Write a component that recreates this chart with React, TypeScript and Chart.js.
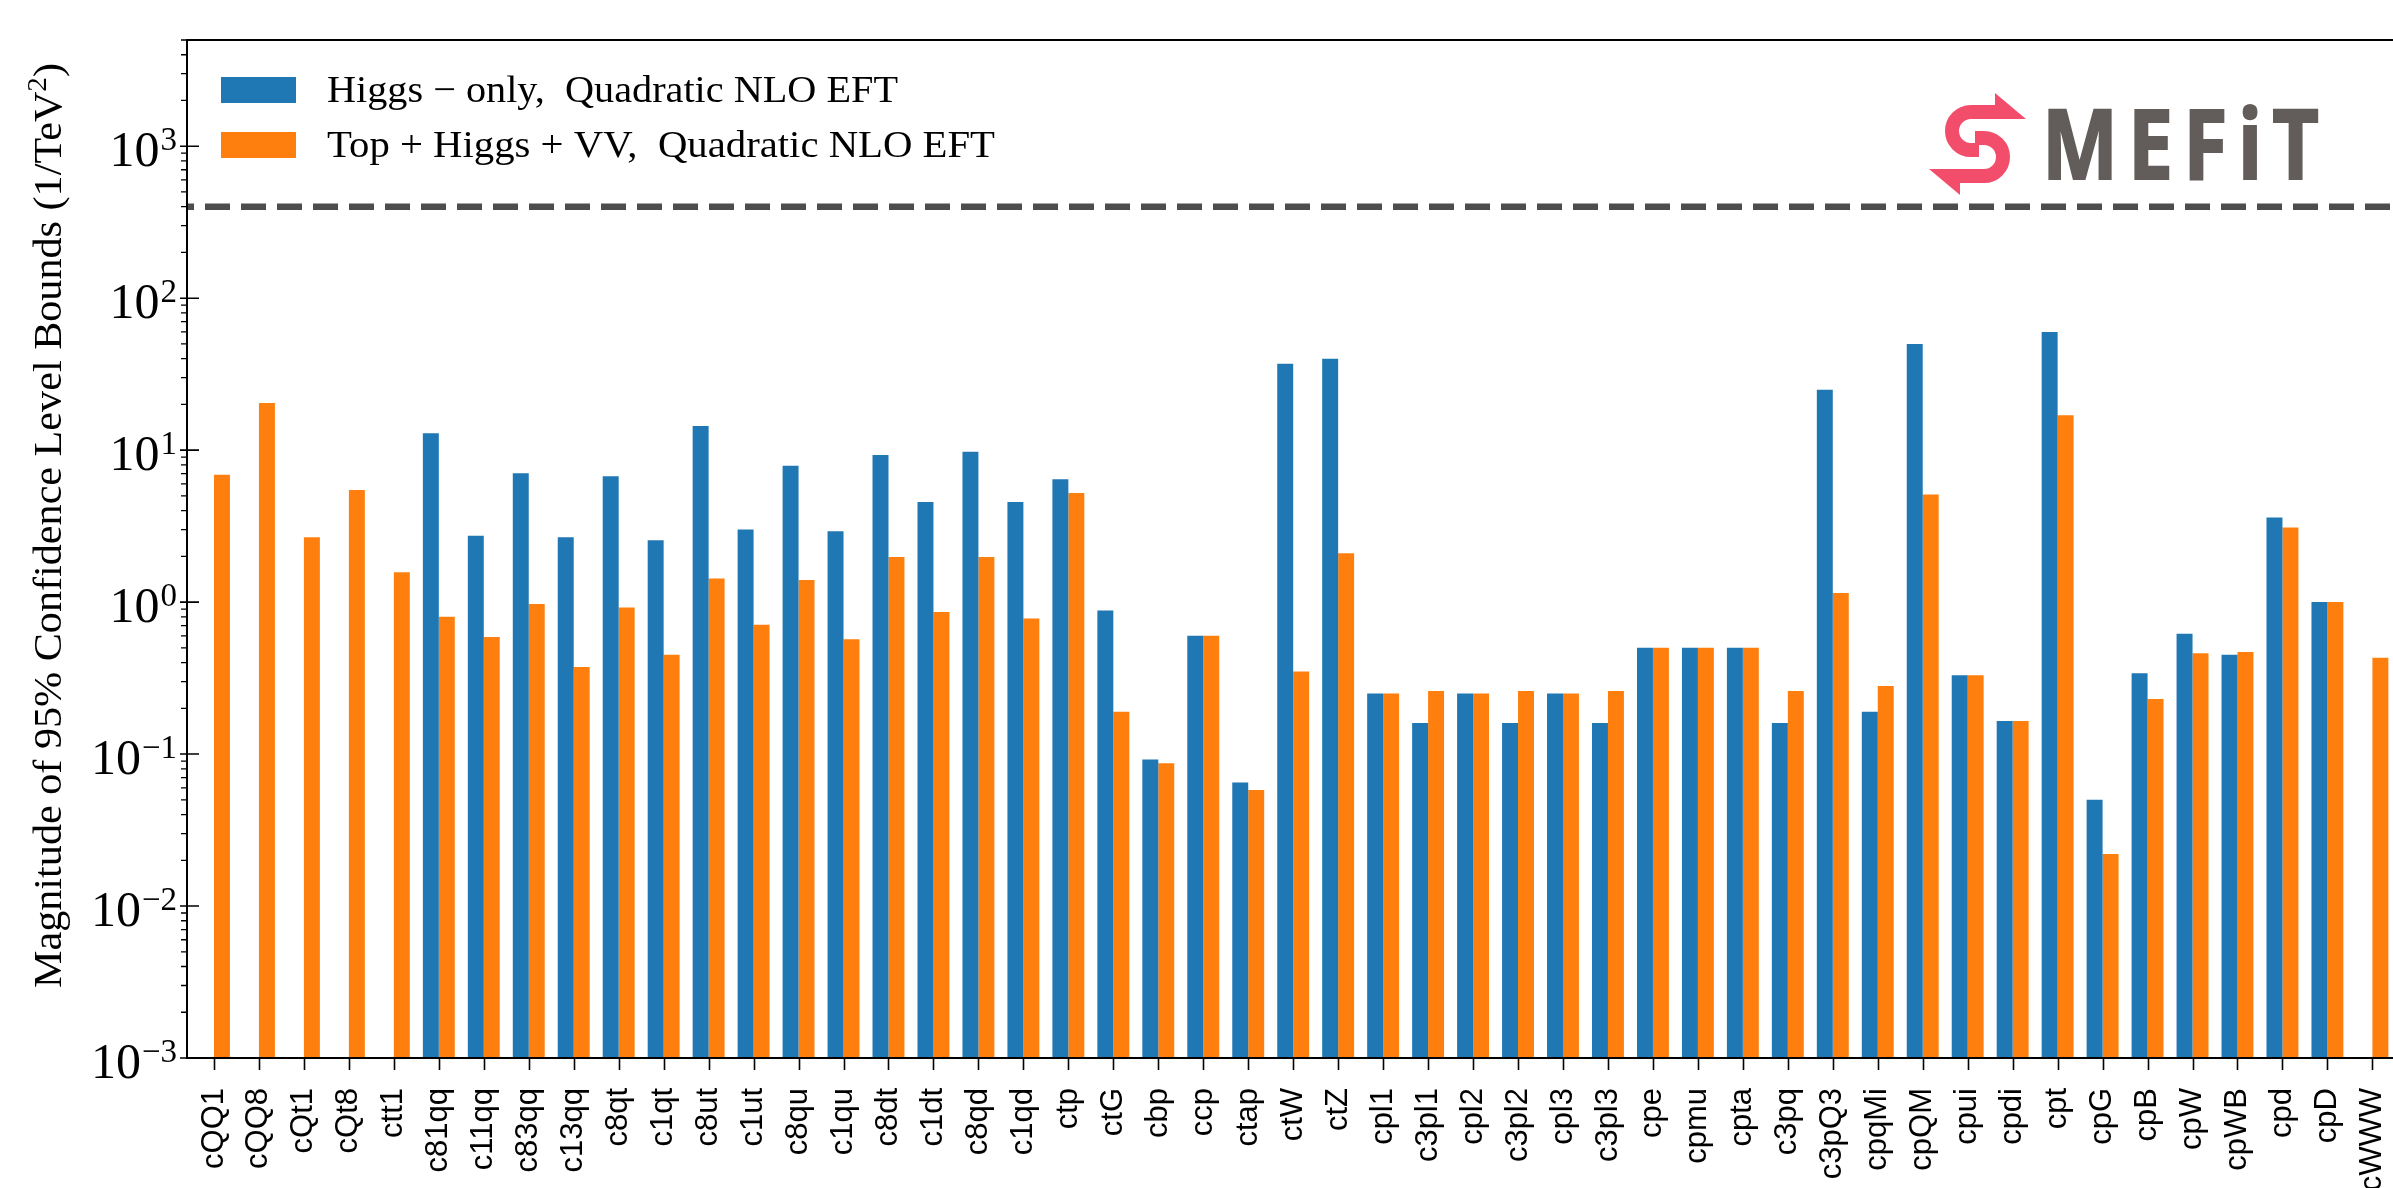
import React, { useEffect, useRef } from 'react';
import { Chart, registerables } from 'chart.js';

Chart.register(...registerables);

const categories = ['cQQ1','cQQ8','cQt1','cQt8','ctt1','c81qq','c11qq','c83qq','c13qq','c8qt','c1qt','c8ut','c1ut','c8qu','c1qu','c8dt','c1dt','c8qd','c1qd','ctp','ctG','cbp','ccp','ctap','ctW','ctZ','cpl1','c3pl1','cpl2','c3pl2','cpl3','c3pl3','cpe','cpmu','cpta','c3pq','c3pQ3','cpqMi','cpQM','cpui','cpdi','cpt','cpG','cpB','cpW','cpWB','cpd','cpD','cWWW'];

const higgsOnly: (number | null)[] = [null, null, null, null, null, 12.9, 2.73, 7.05, 2.67, 6.73, 2.55, 14.4, 3.0, 7.9, 2.93, 9.3, 4.55, 9.75, 4.55, 6.43, 0.88, 0.092, 0.6, 0.065, 37, 40, 0.25, 0.16, 0.25, 0.16, 0.25, 0.16, 0.5, 0.5, 0.5, 0.16, 25, 0.19, 50, 0.33, 0.165, 60, 0.05, 0.34, 0.62, 0.45, 3.6, 1.0, null];

const topHiggsVV: (number | null)[] = [6.9, 20.4, 2.67, 5.47, 1.57, 0.8, 0.59, 0.97, 0.374, 0.92, 0.45, 1.43, 0.71, 1.4, 0.57, 1.98, 0.86, 1.98, 0.78, 5.22, 0.19, 0.087, 0.6, 0.058, 0.35, 2.1, 0.25, 0.26, 0.25, 0.26, 0.25, 0.26, 0.5, 0.5, 0.5, 0.26, 1.15, 0.28, 5.1, 0.33, 0.165, 17, 0.022, 0.23, 0.46, 0.47, 3.1, 1.0, 0.43];

const seriesLabels = ['Higgs \u2212 only,  Quadratic NLO EFT', 'Top + Higgs + VV,  Quadratic NLO EFT'];
const seriesColors = ['#1f77b4', '#ff7f0e'];
const yExponents = [-3, -2, -1, 0, 1, 2, 3];
const yMin = 0.001;
const yMax = 5000;
const referenceLine = 400;
const yTitleMain = 'Magnitude of 95% Confidence Level Bounds (1/TeV';
const yTitleSup = '2';
const yTitleEnd = ')';
const logoText = 'MEFiT';

const SERIF = '"Liberation Serif", "DejaVu Serif", serif';

type Run = { text: string; size: number; dy: number };

function drawRuns(ctx: CanvasRenderingContext2D, runs: Run[], x: number, y: number, targetWidth?: number) {
  ctx.save();
  let total = 0;
  const widths = runs.map((r) => {
    ctx.font = `${r.size}px ${SERIF}`;
    const w = ctx.measureText(r.text).width;
    total += w;
    return w;
  });
  const sx = targetWidth ? targetWidth / total : 1;
  ctx.translate(x, y);
  ctx.scale(sx, 1);
  let cx = 0;
  runs.forEach((r, i) => {
    ctx.font = `${r.size}px ${SERIF}`;
    ctx.fillText(r.text, cx, r.dy);
    cx += widths[i];
  });
  ctx.restore();
}

const decorPlugin = {
  id: 'decor',
  beforeDatasetsDraw(chart: any) {
    const ctx: CanvasRenderingContext2D = chart.ctx;
    const y = chart.scales.y;
    const area = chart.chartArea;
    const axisX = 187;
    const py = y.getPixelForValue(referenceLine);
    ctx.save();
    ctx.strokeStyle = '#4d4d4d';
    ctx.lineWidth = 6.5;
    ctx.setLineDash([25, 11]);
    ctx.lineDashOffset = 18;
    ctx.beginPath();
    ctx.moveTo(axisX, py);
    ctx.lineTo(area.right + 40, py);
    ctx.stroke();
    ctx.restore();
  },
  afterDatasetsDraw(chart: any) {
    const ctx: CanvasRenderingContext2D = chart.ctx;
    const xs = chart.scales.x;
    const ys = chart.scales.y;
    const area = chart.chartArea;
    const axisX = 187;
    const top = area.top;
    const bottom = area.bottom;
    ctx.save();
    ctx.strokeStyle = '#000';
    ctx.lineWidth = 2;
    ctx.beginPath();
    ctx.moveTo(axisX, top);
    ctx.lineTo(axisX, bottom);
    ctx.moveTo(axisX - 1, bottom);
    ctx.lineTo(area.right + 40, bottom);
    ctx.moveTo(axisX - 1, top);
    ctx.lineTo(area.right + 40, top);
    ctx.stroke();
    ctx.lineWidth = 1.6;
    ctx.beginPath();
    categories.forEach((_, i) => {
      const px = Math.round(xs.getPixelForTick(i)) + 0.5;
      ctx.moveTo(px, bottom);
      ctx.lineTo(px, bottom + 12);
    });
    ctx.stroke();
    ctx.beginPath();
    yExponents.forEach((e) => {
      const p = ys.getPixelForValue(Math.pow(10, e));
      ctx.moveTo(axisX - 7, p);
      ctx.lineTo(axisX + 12, p);
    });
    ctx.stroke();
    ctx.lineWidth = 1.3;
    ctx.beginPath();
    yExponents.forEach((e) => {
      for (let k = 2; k <= 9; k++) {
        const v = k * Math.pow(10, e);
        if (v > yMax) continue;
        const p = ys.getPixelForValue(v);
        ctx.moveTo(axisX - 6, p);
        ctx.lineTo(axisX, p);
      }
    });
    ctx.stroke();
    ctx.restore();

    ctx.save();
    ctx.fillStyle = '#000';
    ctx.textBaseline = 'alphabetic';
    yExponents.forEach((e) => {
      const p = ys.getPixelForValue(Math.pow(10, e));
      const expText = e < 0 ? `\u2212${-e}` : `${e}`;
      ctx.font = `50px ${SERIF}`;
      const w1 = ctx.measureText('10').width;
      ctx.font = `33px ${SERIF}`;
      const w2 = ctx.measureText(expText).width;
      const x0 = 176 - w1 - w2;
      ctx.font = `50px ${SERIF}`;
      ctx.fillText('10', x0, p + 20);
      ctx.font = `33px ${SERIF}`;
      ctx.fillText(expText, x0 + w1 + 1, p + 4);
    });
    ctx.restore();

    ctx.save();
    ctx.fillStyle = '#000';
    ctx.translate(61, 988);
    ctx.rotate(-Math.PI / 2);
    drawRuns(ctx, [
      { text: yTitleMain, size: 39, dy: 0 },
      { text: yTitleSup, size: 27, dy: -15 },
      { text: yTitleEnd, size: 39, dy: 0 },
    ], 0, 0, 925);
    ctx.restore();

    ctx.save();
    seriesLabels.forEach((lab, i) => {
      const sy = 77 + i * 55;
      ctx.fillStyle = seriesColors[i];
      ctx.fillRect(221, sy, 75, 26);
      ctx.fillStyle = '#000';
      drawRuns(ctx, [{ text: lab, size: 38, dy: 0 }], 327, 102 + i * 55, i === 0 ? 571 : 668);
    });
    ctx.restore();

    // logo
    ctx.save();
    const red = '#f24e6b';
    ctx.strokeStyle = red;
    ctx.fillStyle = red;
    ctx.lineWidth = 14;
    ctx.lineCap = 'butt';
    ctx.beginPath();
    ctx.moveTo(1998, 112);
    ctx.lineTo(1971, 112);
    ctx.arc(1971, 131, 19, -Math.PI / 2, Math.PI / 2, true);
    ctx.lineTo(1979, 150);
    ctx.stroke();
    ctx.beginPath();
    ctx.moveTo(1975, 138);
    ctx.lineTo(1984, 138);
    ctx.arc(1984, 157, 19, -Math.PI / 2, Math.PI / 2, false);
    ctx.lineTo(1957, 176);
    ctx.stroke();
    ctx.beginPath();
    ctx.moveTo(1995, 93);
    ctx.lineTo(2026, 119);
    ctx.lineTo(1995, 119);
    ctx.closePath();
    ctx.fill();
    ctx.beginPath();
    ctx.moveTo(1960, 195);
    ctx.lineTo(1929, 169);
    ctx.lineTo(1960, 169);
    ctx.closePath();
    ctx.fill();
    ctx.fillStyle = '#625d5b';
    ctx.strokeStyle = '#625d5b';
    ctx.lineWidth = 2;
    ctx.lineJoin = 'miter';
    ctx.font = 'bold 96px "Open Sans", Lato, sans-serif';
    (ctx as any).letterSpacing = '12px';
    const lw = ctx.measureText(logoText).width - 12;
    ctx.translate(2042, 179);
    ctx.scale(277 / lw, 1);
    ctx.fillText(logoText, 0, 0);
    ctx.strokeText(logoText, 0, 0);
    ctx.restore();
  },
};

export default function App() {
  const ref = useRef<HTMLCanvasElement | null>(null);
  useEffect(() => {
    if (!ref.current) return;
    const canvasW = 2440;
    const chart = new Chart(ref.current, {
      type: 'bar',
      data: {
        labels: categories,
        datasets: [
          { label: seriesLabels[0], data: higgsOnly as any, backgroundColor: seriesColors[0], borderWidth: 0, categoryPercentage: 0.71, barPercentage: 1.0 },
          { label: seriesLabels[1], data: topHiggsVV as any, backgroundColor: seriesColors[1], borderWidth: 0, categoryPercentage: 0.71, barPercentage: 1.0 },
        ],
      },
      options: {
        responsive: false,
        animation: false,
        devicePixelRatio: 1,
        events: [],
        layout: { padding: { left: 191.5, right: canvasW - 2400.5, top: 40, bottom: 0 } },
        plugins: { legend: { display: false }, tooltip: { enabled: false }, title: { display: false } },
        scales: {
          x: {
            type: 'category',
            offset: true,
            grid: { display: false, drawTicks: false },
            border: { display: false },
            ticks: {
              autoSkip: false,
              minRotation: 90,
              maxRotation: 90,
              padding: 30,
              color: '#000',
              font: { family: '"Liberation Sans", Arial, sans-serif', size: 31 },
            },
            afterFit: (s: any) => { s.height = 130; },
          },
          y: {
            type: 'logarithmic',
            display: false,
            min: yMin,
            max: yMax,
          },
        },
      },
      plugins: [decorPlugin],
    });
    return () => chart.destroy();
  }, []);
  return (
    <div style={{ position: 'fixed', left: 0, top: 0, width: 2393, height: 1188, overflow: 'hidden', background: '#fff' }}>
      <canvas ref={ref} width={2440} height={1188} style={{ display: 'block', width: 2440, height: 1188 }} />
    </div>
  );
}
